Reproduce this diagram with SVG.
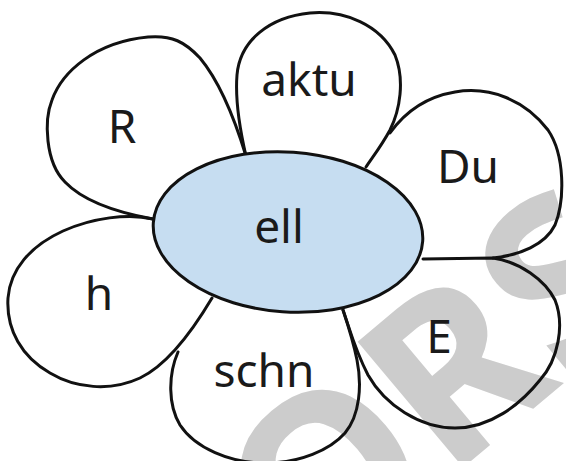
<svg xmlns="http://www.w3.org/2000/svg" width="566" height="461" viewBox="0 0 566 461">
<style>
.petal{fill:none;stroke:#111;stroke-width:3;stroke-linecap:round;stroke-linejoin:round}
.lbl{font-family:"Noto Sans","Liberation Sans",sans-serif;font-size:46px;fill:#1a1a1a;text-anchor:middle}
.wm{font-family:"Noto Sans","Liberation Sans",sans-serif;font-weight:700;font-size:230px;fill:#cccccc}
</style>
<rect width="566" height="461" fill="#ffffff"/>
<g id="watermark" transform="translate(309,597) rotate(-40)">
<text class="wm" x="0" y="0">ORS</text>
</g>
<g id="connectors"></g>
<g id="petal-R">
<path class="petal" d="M153,219 C120,213 85,203 65,182 C45,162 44,120 52,100 C62,72 95,42 148,37 C172,35 185,42 200,58 C220,82 235,120 246,156"/>
<text class="lbl" x="122" y="143">R</text>
</g>
<g id="petal-aktu">
<path class="petal" d="M246,156 C240,130 235,100 237,75 C240,40 270,17 310,13 C345,10 380,25 395,55 C405,80 400,110 390,130 C382,145 372,158 366,167"/>
<text class="lbl" x="309" y="96">aktu</text>
</g>
<g id="petal-Du">
<path class="petal" d="M390,133 C405,112 425,97 455,92 C490,86 525,100 548,130 C565,155 565,200 555,225 C545,245 520,255 493,258"/>
<text class="lbl" x="468" y="183">Du</text>
</g>
<g id="petal-E">
<path class="petal" d="M423,259 L493,258 C520,262 545,280 555,300 C565,325 558,360 540,380 C520,405 490,428 455,428 C420,428 385,405 368,375 C355,350 350,330 343,310"/>
<text class="lbl" x="439" y="353">E</text>
</g>
<g id="petal-schn">
<path class="petal" d="M178,352 C168,375 168,405 180,425 C195,448 230,463 265,463 C300,463 330,450 345,433 C360,415 362,385 357,360 C353,340 348,325 343,310"/>
<text class="lbl" x="264" y="387">schn</text>
</g>
<g id="petal-h">
<path class="petal" d="M153,219 C128,213 92,218 63,231 C30,246 10,270 8,298 C6,330 22,357 50,373 C75,388 110,392 140,378 C165,366 190,335 212,298"/>
<text class="lbl" x="99" y="310">h</text>
</g>
<g id="center">
<ellipse cx="288" cy="232" rx="135" ry="80" transform="rotate(4 288 232)" fill="#c6ddf1" stroke="#111" stroke-width="3"/>
<text class="lbl" x="279" y="243">ell</text>
</g>
</svg>
